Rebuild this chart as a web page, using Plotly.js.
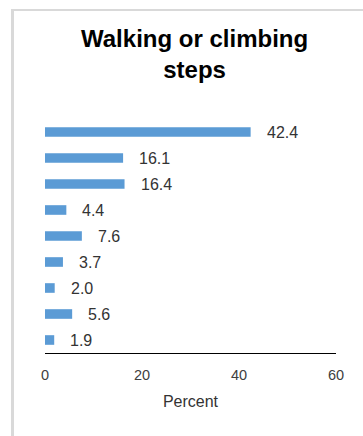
<!DOCTYPE html>
<html>
<head>
<meta charset="utf-8">
<script src="https://cdn.plot.ly/plotly-3.0.1.min.js"></script>
<style>
  html, body { margin: 0; padding: 0; background: #fff; }
  #wrap { position: relative; width: 363px; height: 436px; overflow: hidden; }
  #frame { position: absolute; left: 11px; top: 9px; width: 400px; height: 500px;
           border-left: 3px solid #d9d9d9; border-top: 2px solid #d9d9d9; pointer-events: none; }
  #chart { position: absolute; left: 0; top: 0; width: 363px; height: 436px; }
</style>
</head>
<body>
<div id="wrap">
  <div id="chart"></div>
  <div id="frame"></div>
</div>
<script>
const categories = ["Item 1", "Item 2", "Item 3", "Item 4", "Item 5", "Item 6", "Item 7", "Item 8", "Item 9"];
const percents = [42.4, 16.1, 16.4, 4.4, 7.6, 3.7, 2.0, 5.6, 1.9];
const xTicks = [0, 20, 40, 60];
const chartTitle = "Walking or climbing<br>steps";
const xTitle = "Percent";

const font = "Liberation Sans, Arial, sans-serif";

const trace = {
  type: "bar",
  orientation: "h",
  x: percents,
  y: categories,
  marker: { color: "#5b9bd5" },
  hoverinfo: "x"
};

const annotations = percents.map((v, i) => ({
  x: v, y: categories[i], xref: "x", yref: "y",
  text: v.toFixed(1), showarrow: false,
  xanchor: "left", yanchor: "middle", xshift: 14,
  font: { family: font, size: 16, color: "#333333" }
}));

const layout = {
  width: 363, height: 436,
  margin: { l: 45, r: 27, t: 119, b: 83 },
  paper_bgcolor: "rgba(0,0,0,0)", plot_bgcolor: "rgba(0,0,0,0)",
  bargap: 0.63,
  showlegend: false,
  title: {
    text: chartTitle,
    font: { family: font, size: 24, color: "#000", weight: "bold" },
    xref: "container", x: 0.536, xanchor: "center",
    yref: "container", y: 1 - 47/436, yanchor: "top"
  },
  xaxis: {
    range: [0, 60], tickvals: xTicks, ticktext: xTicks.map(String),
    showgrid: false, zeroline: false, showline: true, linecolor: "#000", linewidth: 1,
    ticks: "", ticklabelstandoff: 9, tickfont: { family: font, size: 14.5, color: "#404040" },
    title: { text: xTitle, font: { family: font, size: 16, color: "#333333" }, standoff: 13 },
    fixedrange: true
  },
  yaxis: {
    type: "category", autorange: "reversed",
    showticklabels: false, showgrid: false, zeroline: false, showline: false, ticks: "",
    fixedrange: true
  },
  annotations: annotations
};

Plotly.newPlot("chart", [trace], layout, { displayModeBar: false, staticPlot: true });
</script>
</body>
</html>
